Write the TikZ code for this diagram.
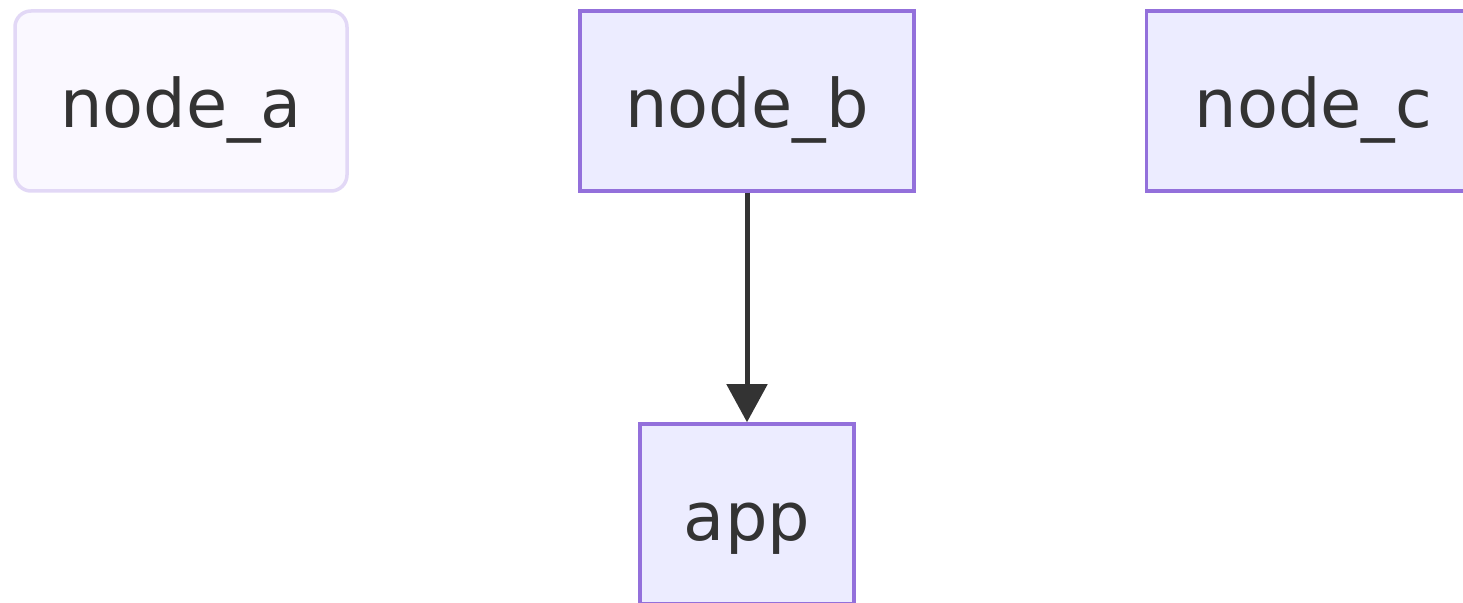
\documentclass[tikz,border=0pt]{standalone}
\usepackage{fontspec}
\setmainfont{DejaVu Sans}
\usetikzlibrary{arrows.meta}
\definecolor{boxfill}{HTML}{ECECFF}
\definecolor{boxline}{HTML}{9370DB}
\definecolor{fadefill}{HTML}{FAF8FF}
\definecolor{fadeline}{HTML}{E2D8F6}
\definecolor{ink}{HTML}{333333}
\tikzset{
  box/.style={draw=boxline, fill=boxfill, line width=1.75pt, inner sep=0pt,
    minimum width=167pt, minimum height=90pt, text=ink,
    text height=26.5pt, text depth=0pt,
    font=\fontsize{33.5}{40}\selectfont},
  fadebox/.style={box, draw=fadeline, fill=fadefill, rounded corners=8pt},
  link/.style={draw=ink, line width=2.5pt, -{Triangle[width=20pt,length=19pt]}}
}
\begin{document}
\begin{tikzpicture}[x=0.5pt,y=-0.5pt]
\useasboundingbox (0,0) rectangle (1463,603);
\clip (0,0) rectangle (1463,603);
\fill[white] (0,0) rectangle (1463,603);
\node[fadebox, minimum width=166pt] (a) at (181,101) {node\_a};
\node[box] (b) at (747,101) {node\_b};
\node[box] (c) at (1313.5,101) {node\_c};
\node[box, minimum width=107pt] (app) at (747,514) {app};
\draw[link] (b) -- (app);
\end{tikzpicture}
\end{document}
